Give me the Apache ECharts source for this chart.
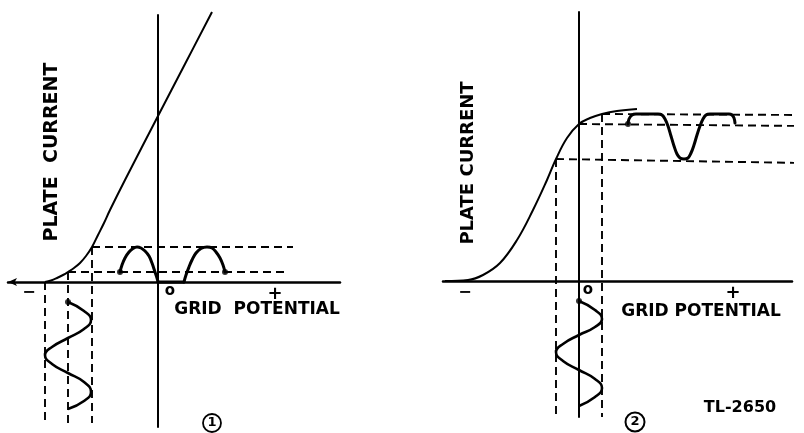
<!DOCTYPE html>
<html><head><meta charset="utf-8">
<script src="https://cdn.jsdelivr.net/npm/echarts@6/dist/echarts.min.js"></script>
<style>html,body{margin:0;padding:0;background:#fff}#c{width:804px;height:433px}</style>
</head><body><div id="c"></div>
<script>
// ---------- Panel 1 : grid potential (x) vs plate current (y), schematic units ----------
const p1Curve = [[-11.3,0],[-10.7,0.15],[-10.1,0.4],[-9.5,0.7],[-9.0,1.0],[-8.4,1.4],[-7.8,1.9],[-7.2,2.6],[-6.6,3.5],[-6.0,4.7],[-5.4,5.9],[-4.8,7.2],[-3.3,10.2],[0,16.6],[2.7,21.8],[5.4,27.0]];
const p1Input = [[-9.0,-2.0],[-7.4,-2.9],[-6.7,-3.8],[-7.4,-4.7],[-9.0,-5.6],[-10.6,-6.5],[-11.3,-7.3],[-10.6,-8.2],[-9.0,-9.1],[-7.4,-10.0],[-6.7,-11.0],[-7.4,-11.9],[-9.0,-12.7]];
const p1OutArch1 = [[-3.8,1.0],[-3.6,1.7],[-3.3,2.4],[-2.9,3.0],[-2.5,3.35],[-2.1,3.5],[-1.7,3.4],[-1.3,3.1],[-0.9,2.6],[-0.6,1.9],[-0.3,1.0],[-0.1,0.4],[0,0]];
const p1OutCutoff = [[0,0],[2.6,0]];
const p1OutArch2 = [[2.6,0],[2.8,0.7],[3.1,1.5],[3.4,2.2],[3.8,2.9],[4.3,3.35],[4.9,3.5],[5.4,3.4],[5.8,3.0],[6.2,2.4],[6.5,1.7],[6.7,1.0]];
const p1DashH = [[[-6.6,3.5],[13.5,3.5]],[[-9.0,1.0],[13.0,1.0]]];
const p1DashV = [[[-11.3,0],[-11.3,-14.1]],[[-9.0,1.0],[-9.0,-14.1]],[[-6.6,3.5],[-6.6,-14.1]]];
const p1Dots = [[-3.8,1.0],[6.7,1.0],[-9.0,-2.0]];

// ---------- Panel 2 ----------
const p2Curve = [[-13.4,0],[-11.1,0.1],[-9.6,0.6],[-7.9,1.8],[-6.2,4.1],[-4.6,7.1],[-3.2,10.1],[-2.3,12.2],[-1.2,14.3],[0,15.7],[1.1,16.3],[2.3,16.7],[3.8,17.0],[5.8,17.2]];
const p2Input = [[0,-2.0],[1.6,-2.9],[2.3,-3.8],[1.6,-4.6],[0,-5.4],[-1.6,-6.3],[-2.3,-7.1],[-1.6,-8.0],[0,-8.9],[1.6,-9.8],[2.3,-10.7],[1.6,-11.6],[0,-12.5]];
const p2Output = [[4.9,15.7],[5.0,16.2],[5.3,16.6],[5.7,16.7],[6.8,16.7],[7.9,16.7],[8.3,16.6],[8.6,16.2],[8.9,15.5],[9.2,14.5],[9.5,13.5],[9.8,12.7],[10.1,12.3],[10.5,12.2],[10.9,12.3],[11.2,12.8],[11.5,13.6],[11.8,14.6],[12.1,15.5],[12.4,16.2],[12.7,16.6],[13.1,16.7],[14.0,16.7],[15.0,16.7],[15.3,16.6],[15.5,16.3],[15.6,15.8]];
const p2DashH = [[[2.3,16.7],[22.5,16.6]],[[0,15.7],[22.5,15.5]],[[-2.3,12.2],[22.5,11.8]]];
const p2DashV = [[[-2.3,12.2],[-2.3,-13.6]],[[2.3,16.7],[2.3,-13.6]]];
const p2Dots = [[4.9,15.7],[0,-2.0]];

// ---------- Labels ----------
const yTitle1 = 'PLATE  CURRENT';
const yTitle2 = 'PLATE CURRENT';
const xTitle1 = 'GRID  POTENTIAL';
const xTitle2 = 'GRID POTENTIAL';
const tickLabels = ['−', 'o', '+'];
const panelNumbers = ['1', '2'];
const figureCode = 'TL-2650';

const FONT = 'bold {s}px "DejaVu Sans", sans-serif';
const f = s => FONT.replace('{s}', s);
const BLACK = '#000';

function lineSeries(g, data, opt) {
  return Object.assign({
    type: 'line', xAxisIndex: g, yAxisIndex: g, data: data,
    symbol: 'none', clip: false, animation: false, silent: true,
    lineStyle: { color: BLACK, width: 2 }
  }, opt);
}
const dashStyle = { color: BLACK, width: 1.9, type: [8, 5] };
const waveStyle = { color: BLACK, width: 3, cap: 'round', join: 'round' };

const series = [];
series.push(lineSeries(0, p1Curve, { smooth: 0.4 }));
series.push(lineSeries(0, p1Input, { smooth: 0.5, lineStyle: { color: BLACK, width: 2.6 } }));
[p1OutArch1, p1OutCutoff, p1OutArch2].forEach(d => series.push(lineSeries(0, d, { smooth: 0.4, lineStyle: waveStyle })));
p1DashH.concat(p1DashV).forEach(d => series.push(lineSeries(0, d, { lineStyle: dashStyle })));
series.push({ type: 'scatter', xAxisIndex: 0, yAxisIndex: 0, data: p1Dots, symbolSize: 6, itemStyle: { color: BLACK }, clip: false, animation: false, silent: true });

series.push(lineSeries(1, p2Curve, { smooth: 0.4 }));
series.push(lineSeries(1, p2Input, { smooth: 0.5, lineStyle: { color: BLACK, width: 2.6 } }));
series.push(lineSeries(1, p2Output, { smooth: 0.4, lineStyle: waveStyle }));
p2DashH.concat(p2DashV).forEach(d => series.push(lineSeries(1, d, { lineStyle: dashStyle })));
series.push({ type: 'scatter', xAxisIndex: 1, yAxisIndex: 1, data: p2Dots, symbolSize: 6, itemStyle: { color: BLACK }, clip: false, animation: false, silent: true });

function axis(g, min, max, w, sym) {
  return {
    type: 'value', gridIndex: g, min: min, max: max,
    axisLine: { show: true, onZero: true, symbol: sym || 'none', symbolSize: [6, 9], lineStyle: { color: BLACK, width: w } },
    axisTick: { show: false }, axisLabel: { show: false }, splitLine: { show: false }
  };
}

function txt(x, y, text, size, rot) {
  return { type: 'text', x: x, y: y, rotation: rot || 0, silent: true,
    style: { text: text, font: f(size), fill: BLACK, align: 'center', verticalAlign: 'middle' } };
}

const chart = echarts.init(document.getElementById('c'), null, { renderer: 'canvas' });
chart.setOption({
  backgroundColor: '#fff',
  animation: false,
  grid: [
    { left: 8, top: 15, width: 332, height: 412 },
    { left: 443, top: 12, width: 349, height: 405 }
  ],
  xAxis: [axis(0, -15, 18.2, 2.5, ['arrow', 'none']), axis(1, -13.6, 21.3, 2.5)],
  yAxis: [axis(0, -14.5, 26.7, 2), axis(1, -13.6, 26.9, 2)],
  series: series,
  graphic: [
    txt(52, 152, yTitle1, 19, Math.PI / 2),
    txt(29, 293, tickLabels[0], 16),
    txt(170, 291, tickLabels[1], 15),
    txt(275, 294, tickLabels[2], 18),
    txt(257, 310, xTitle1, 17),
    { type: 'circle', shape: { cx: 212, cy: 423, r: 9 }, style: { fill: 'none', stroke: BLACK, lineWidth: 1.8 }, silent: true },
    txt(212, 423, panelNumbers[0], 13),
    txt(468, 163, yTitle2, 18, Math.PI / 2),
    txt(465, 293, tickLabels[0], 16),
    txt(588, 290, tickLabels[1], 15),
    txt(733, 293, tickLabels[2], 18),
    txt(701, 312, xTitle2, 17),
    { type: 'circle', shape: { cx: 635, cy: 422, r: 9.5 }, style: { fill: 'none', stroke: BLACK, lineWidth: 2 }, silent: true },
    txt(635, 422, panelNumbers[1], 13),
    txt(740, 408, figureCode, 16)
  ]
});
</script></body></html>
